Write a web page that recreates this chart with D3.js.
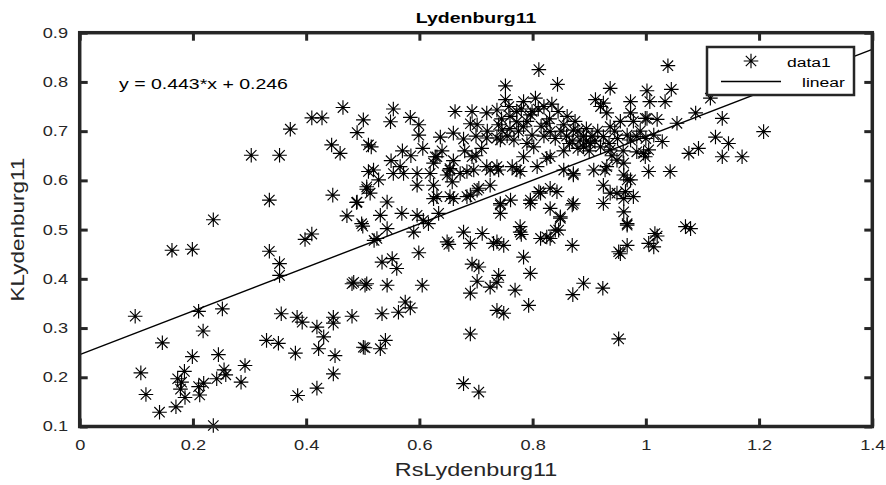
<!DOCTYPE html>
<html><head><meta charset="utf-8">
<script src="https://cdn.jsdelivr.net/npm/d3@7"></script>
<style>body{margin:0;background:#fff}svg{display:block}</style>
</head><body>
<svg id="chart" width="886" height="485"></svg>
<script>
// ---- data ----
const chartTitle = "Lydenburg11";
const xLabel = "RsLydenburg11";
const yLabel = "KLydenburg11";
const xTicks = [0, 0.2, 0.4, 0.6, 0.8, 1.0, 1.2, 1.4];
const yTicks = [0.1, 0.2, 0.3, 0.4, 0.5, 0.6, 0.7, 0.8, 0.9];
const fitSlope = 0.443;
const fitIntercept = 0.246;
const fitLabel = "y = 0.443*x + 0.246";
const legendLabels = ["data1", "linear"];
// [RsLydenburg11, KLydenburg11]
const scatterPoints = [
[0.098,0.324],[0.21,0.334],[0.252,0.339],[0.356,0.329],[0.146,0.27],[0.218,0.294],[0.108,0.209],[0.117,0.165],
[0.199,0.242],[0.245,0.246],[0.185,0.212],[0.173,0.197],[0.178,0.176],[0.186,0.159],[0.21,0.181],[0.212,0.164],
[0.219,0.188],[0.242,0.197],[0.255,0.215],[0.258,0.205],[0.292,0.224],[0.285,0.19],[0.141,0.129],[0.170,0.14],
[0.236,0.102],[0.33,0.275],[0.351,0.269],[0.381,0.249],[0.384,0.322],[0.393,0.312],[0.419,0.302],[0.431,0.282],
[0.422,0.258],[0.448,0.322],[0.448,0.31],[0.481,0.324],[0.451,0.244],[0.448,0.207],[0.419,0.178],[0.385,0.163],
[0.501,0.261],[0.481,0.39],[0.504,0.387],[0.18,0.19],
[0.303,0.651],[0.353,0.651],[0.46,0.655],[0.335,0.56],[0.236,0.52],[0.163,0.458],[0.199,0.46],[0.335,0.456],
[0.353,0.431],[0.353,0.407],[0.398,0.48],[0.41,0.491],[0.447,0.57],[0.472,0.528],[0.489,0.555],[0.5,0.507],
[0.507,0.582],[0.51,0.618],[0.372,0.704],
[0.41,0.727],[0.428,0.727],[0.445,0.672],[0.465,0.748],[0.49,0.697],[0.501,0.723],[0.554,0.745],[0.549,0.719],
[0.584,0.728],[0.599,0.713],[0.599,0.692],[0.51,0.672],[0.515,0.668],[0.606,0.665],
[0.811,0.825],[0.752,0.792],[0.844,0.795],[0.937,0.787],[1.002,0.782],[1.045,0.785],[1.039,0.833],[0.663,0.74],
[0.693,0.74],[0.719,0.737],[0.637,0.688],[0.66,0.696],[0.678,0.684],[0.702,0.713],[0.752,0.764],[0.758,0.75],
[0.784,0.76],[0.805,0.767],[0.834,0.755],[0.737,0.743],[0.772,0.74],[0.799,0.74],[0.74,0.713],[0.746,0.702],
[0.772,0.719],[0.784,0.709],[0.796,0.733],[0.719,0.686],[0.737,0.686],[0.767,0.682],[0.799,0.692],[0.802,0.668],
[0.825,0.716],[0.831,0.699],[0.855,0.713],[0.861,0.73],[0.872,0.702],[0.884,0.682],[0.89,0.668],[0.902,0.675],
[0.911,0.764],[0.925,0.757],[0.931,0.737],[0.937,0.709],[0.925,0.689],[0.92,0.668],[0.937,0.662],[0.973,0.76],
[0.973,0.737],[0.978,0.72],[0.999,0.726],[1.007,0.76],[0.973,0.682],[0.984,0.689],[0.996,0.655],[0.949,0.641],
[0.931,0.628],[0.961,0.611],[0.973,0.601],[0.925,0.59],[0.949,0.574],[0.925,0.553],[0.961,0.563],[0.978,0.567],
[0.961,0.536],[0.967,0.512],[0.872,0.553],[0.831,0.584],[0.843,0.577],[0.814,0.574],[0.796,0.553],[0.831,0.543],
[0.849,0.526],[0.855,0.621],[0.872,0.611],[0.831,0.648],[0.808,0.628],[0.784,0.648],[0.772,0.621],[0.761,0.56],
[0.743,0.55],[0.743,0.533],[0.778,0.506],[0.725,0.59],[0.702,0.58],[0.737,0.628],[0.725,0.621],[0.696,0.621],
[0.693,0.648],[0.672,0.614],[0.654,0.624],[0.649,0.611],[0.631,0.648],[0.625,0.635],[0.619,0.614],[0.596,0.614],
[0.596,0.59],[0.625,0.59],[0.631,0.567],[0.654,0.567],[0.684,0.567],[0.566,0.628],[0.572,0.614],[0.554,0.614],
[0.519,0.621],[0.528,0.601],[0.507,0.587],[0.513,0.574],[0.49,0.556],[0.543,0.556],[0.531,0.529],[0.569,0.533],
[0.596,0.529],[0.607,0.519],[0.634,0.533],[0.616,0.512],[0.498,0.512],
[0.743,0.682],[0.628,0.648],[0.654,0.621],[0.684,0.618],[0.719,0.628],[0.74,0.621],[0.764,0.628],[0.778,0.618],
[0.825,0.645],[0.658,0.597],[0.625,0.563],[0.66,0.563],[0.705,0.584],[0.69,0.57],[0.743,0.553],[0.796,0.56],
[0.811,0.577],[0.87,0.55],[0.872,0.614],[0.908,0.621],[0.678,0.495],[0.711,0.492],[0.649,0.475],[0.652,0.47],
[0.737,0.475],[0.778,0.495],[0.78,0.49],[0.814,0.482],[0.825,0.485],[0.84,0.499],[0.87,0.468],[0.849,0.523],
[0.543,0.502],[0.525,0.482],[0.52,0.478],[0.59,0.495],[0.534,0.434],[0.552,0.441],[0.56,0.421],[0.599,0.453],
[0.484,0.393],[0.507,0.39],[0.543,0.387],[0.605,0.387],[0.575,0.353],[0.584,0.341],[0.563,0.332],[0.534,0.329],
[0.54,0.275],[0.504,0.26],[0.531,0.258],[0.69,0.472],[0.731,0.472],[0.749,0.468],[0.831,0.482],[0.846,0.499],
[0.784,0.444],[0.693,0.43],[0.705,0.424],[0.74,0.407],[0.737,0.393],[0.702,0.395],[0.725,0.383],[0.69,0.371],
[0.796,0.411],[0.769,0.377],[0.793,0.346],[0.737,0.336],[0.749,0.33],[0.69,0.288],[0.678,0.187],[0.705,0.17],
[0.871,0.368],[0.89,0.391],[0.924,0.381],[0.952,0.278],[0.952,0.455],[0.967,0.468],[0.967,0.509],[1.005,0.472],
[1.034,0.76],[1.114,0.767],[1.002,0.726],[1.02,0.724],[1.088,0.737],[1.135,0.726],[1.055,0.716],[1.208,0.699],
[1.123,0.688],[1.146,0.675],[1.093,0.665],[1.076,0.655],[1.135,0.648],[1.17,0.648],[1.014,0.692],[1.029,0.679],
[1.005,0.662],[0.984,0.658],[1.005,0.618],[1.043,0.618],[0.961,0.635],[0.967,0.601],[0.964,0.577],[1.07,0.506],
[1.079,0.502],[1.016,0.492],[1.02,0.487],[1.014,0.465],[0.955,0.451],[0.92,0.75],[0.967,0.692],[0.928,0.621],
[0.937,0.574],[0.999,0.648],
[0.86,0.69],[0.87,0.68],[0.88,0.70],[0.89,0.69],[0.895,0.705],[0.90,0.66],[0.905,0.69],[0.88,0.665],
[0.865,0.675],[0.85,0.70],[0.84,0.685],[0.915,0.70],[0.91,0.68],[0.875,0.72],[0.895,0.68],[0.855,0.66],
[0.82,0.69],[0.815,0.71],[0.83,0.725],[0.845,0.74],[0.81,0.745],[0.79,0.72],[0.775,0.70],[0.76,0.73],
[0.76,0.705],[0.745,0.725],[0.78,0.745],[0.82,0.75],[0.755,0.69],[0.79,0.675],[0.955,0.72],[0.945,0.70],
[0.95,0.685],[0.935,0.675],[0.99,0.70],[1.0,0.685],[0.96,0.66],[0.94,0.65],
[0.57,0.66],[0.585,0.65],[0.55,0.64],[0.64,0.66],[0.66,0.64],[0.68,0.66],[0.70,0.65],[0.71,0.665],
[0.72,0.70],[0.70,0.69],[0.69,0.715]
];

// ---- layout ----
const svg = d3.select("#chart");
const plot = {left: 79.7, right: 872.3, top: 32.7, bottom: 426.5};
const axisColor = "#262626";
const fontFamily = "'Liberation Sans', Arial, Helvetica, sans-serif";
const stretch = 1.3;

const x = d3.scaleLinear().domain([0, 1.4]).range([plot.left, plot.right]);
const y = d3.scaleLinear().domain([0.1, 0.9]).range([plot.bottom, plot.top]);
const fmt = d => String(+(+d).toFixed(1));

// points
const star = "M-7.3,0H7.3M0,-7.3V7.3M-5.2,-5.2L5.2,5.2M-5.2,5.2L5.2,-5.2";
svg.append("g").selectAll("path").data(scatterPoints).join("path")
  .attr("transform", d => `translate(${x(d[0])},${y(d[1])})`)
  .attr("d", star).attr("fill", "none").attr("stroke", "#000").attr("stroke-width", 1.15);

// fit line
svg.append("defs").append("clipPath").attr("id", "pc").append("rect")
  .attr("x", plot.left).attr("y", plot.top).attr("width", plot.right - plot.left).attr("height", plot.bottom - plot.top);
const fitX = [0, 1.4];
svg.append("line").attr("clip-path", "url(#pc)")
  .attr("x1", x(fitX[0])).attr("y1", y(fitSlope * fitX[0] + fitIntercept))
  .attr("x2", x(fitX[1])).attr("y2", y(fitSlope * fitX[1] + fitIntercept))
  .attr("stroke", "#000").attr("stroke-width", 1.4);

// axes
function styleAxis(g) {
  g.select(".domain").remove();
  g.selectAll(".tick line").attr("stroke", axisColor).attr("stroke-width", 3);
  g.selectAll("text").attr("fill", axisColor).attr("font-family", fontFamily).attr("font-size", 14);
}
const gx = svg.append("g").attr("transform", `translate(0,${plot.bottom})`)
  .call(d3.axisBottom(x).tickValues(xTicks).tickFormat(fmt).tickSize(-8).tickPadding(13.5)).call(styleAxis);
gx.selectAll("text").attr("transform", `scale(${stretch},1)`);
svg.append("g").attr("transform", `translate(0,${plot.top})`)
  .call(d3.axisTop(x).tickValues(xTicks).tickFormat("").tickSize(-8)).call(styleAxis);
const gy = svg.append("g").attr("transform", `translate(${plot.left},0)`)
  .call(d3.axisLeft(y).tickValues(yTicks).tickFormat(fmt).tickSize(-8).tickPadding(11.7)).call(styleAxis);
gy.selectAll("text").each(function() {
  const t = d3.select(this);
  t.attr("x", +t.attr("x") / stretch).attr("transform", `scale(${stretch},1)`);
});
svg.append("g").attr("transform", `translate(${plot.right},0)`)
  .call(d3.axisRight(y).tickValues(yTicks).tickFormat("").tickSize(-8)).call(styleAxis);

svg.append("rect").attr("x", plot.left).attr("y", plot.top)
  .attr("width", plot.right - plot.left).attr("height", plot.bottom - plot.top)
  .attr("fill", "none").attr("stroke", axisColor).attr("stroke-width", 3.5);

// texts
function stext(tx, ty, str, size, opts = {}) {
  const g = svg.append("g").attr("transform", `translate(${tx},${ty}) ${opts.rotate ? "rotate(" + opts.rotate + ")" : ""} scale(${opts.stretch || stretch},1)`);
  return g.append("text").text(str).attr("font-family", fontFamily).attr("font-size", size)
    .attr("fill", opts.fill || "#000").attr("font-weight", opts.bold ? "bold" : "normal")
    .attr("text-anchor", opts.anchor || "start");
}
const cx = (plot.left + plot.right) / 2;
stext(cx, 23, chartTitle, 15, {bold: true, anchor: "middle"});
stext(cx, 476, xLabel, 18, {anchor: "middle", fill: axisColor});
stext(24, (plot.top + plot.bottom) / 2, yLabel, 18, {anchor: "middle", rotate: -90, stretch: 1.25, fill: axisColor});
stext(119, 89, fitLabel, 15);

// legend
const lg = svg.append("g");
lg.append("rect").attr("x", 707).attr("y", 47).attr("width", 147).attr("height", 48)
  .attr("fill", "#fff").attr("stroke", axisColor).attr("stroke-width", 2.5);
lg.append("path").attr("d", star).attr("transform", "translate(751,61)")
  .attr("fill", "none").attr("stroke", "#000").attr("stroke-width", 1.15);
lg.append("line").attr("x1", 721).attr("x2", 781).attr("y1", 81.5).attr("y2", 81.5)
  .attr("stroke", "#000").attr("stroke-width", 1.4);
stext(787, 66.5, legendLabels[0], 13.5);
stext(802, 87, legendLabels[1], 13.5);
</script>
</body></html>
